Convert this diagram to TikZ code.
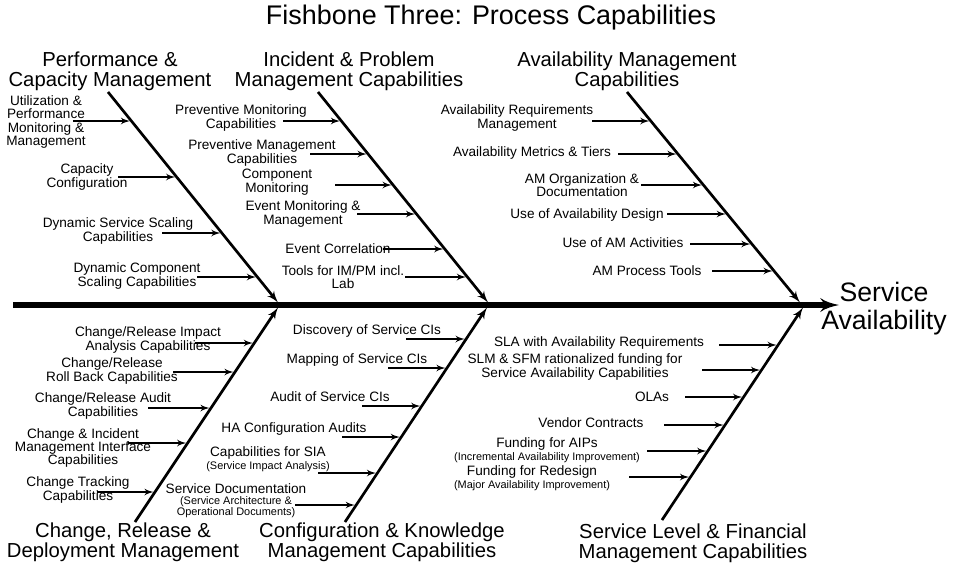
\documentclass[tikz,border=0pt]{standalone}
\usepackage{fontspec}
\setmainfont{Liberation Sans}
\usetikzlibrary{arrows,positioning}
\tikzstyle{spine} = [draw, line width=3.8pt, -latex']
\tikzstyle{bone} = [draw, line width=2pt, -latex']
\tikzstyle{line} = [draw, line width=1.4pt, -latex', shorten >=1pt]
\tikzstyle{cause} = [align=center, inner sep=0pt, font=\fontsize{10.2}{10}\selectfont]
\tikzstyle{note} = [align=center, inner sep=0pt, font=\fontsize{8.2}{8.4}\selectfont]
\tikzstyle{category} = [align=center, inner sep=0pt, font=\fontsize{15.2}{15}\selectfont]

\begin{document}
\begin{tikzpicture}[x=0.75pt, y=-0.75pt]
        \useasboundingbox (0,0) rectangle (953,562);
        \node[font=\fontsize{20.2}{22}\selectfont] (title) at (491,18) {Fishbone Three: Process Capabilities};
        \node[align=center, inner sep=0pt, font=\fontsize{20}{21}\selectfont] (effect) at (884,309) {Service\\Availability};
        \coordinate (tail) at (13,305);
        \coordinate (head) at (839,305);
        \path[spine] (tail) -- (head);
        % categories
        \node[category] (perf) at (110,71) {Performance \&\\Capacity Management};
        \node[category] (inc) at (349,71) {Incident \& Problem\\Management Capabilities};
        \node[category] (avail) at (627,71) {Availability Management\\Capabilities};
        \node[category] (chg) at (123,542) {Change, Release \&\\Deployment Management};
        \node[category] (cfg) at (382,542) {Configuration \& Knowledge\\Management Capabilities};
        \node[category] (slm) at (693,543) {Service Level \& Financial\\Management Capabilities};
        % causes
        \node[cause] (pc1) at (46,122) {Utilization \&\\Performance\\Monitoring \&\\Management};
        \node[cause] (pc2) at (87,177) {Capacity\\Configuration};
        \node[cause] (pc3) at (118,231) {Dynamic Service Scaling\\Capabilities};
        \node[cause] (pc4) at (137,276) {Dynamic Component\\Scaling Capabilities};
        \node[cause] (ic1) at (241,118) {Preventive Monitoring\\Capabilities};
        \node[cause] (ic2) at (262,153) {Preventive Management\\Capabilities};
        \node[cause] (ic3) at (277,182) {Component\\Monitoring};
        \node[cause] (ic4) at (303,214) {Event Monitoring \&\\Management};
        \node[cause] (ic5) at (338,249) {Event Correlation};
        \node[cause] (ic6) at (343,277) {Tools for IM/PM incl.\\Lab};
        \node[cause] (ac1) at (517,118) {Availability Requirements\\Management};
        \node[cause] (ac2) at (532,153) {Availability Metrics \& Tiers};
        \node[cause] (ac3) at (582,185) {AM Organization \&\\Documentation};
        \node[cause] (ac4) at (587,215) {Use of Availability Design};
        \node[cause] (ac5) at (623,243) {Use of AM Activities};
        \node[cause] (ac6) at (647,271) {AM Process Tools};
        \node[cause] (cc1) at (148,340) {Change/Release Impact\\Analysis Capabilities};
        \node[cause] (cc2) at (112,371) {Change/Release\\Roll Back Capabilities};
        \node[cause] (cc3) at (103,406) {Change/Release Audit\\Capabilities};
        \node[cause] (cc4) at (83,448) {Change \& Incident\\Management Interface\\Capabilities};
        \node[cause] (cc5) at (78,490) {Change Tracking\\Capabilities};
        \node[cause] (kc1) at (367,331) {Discovery of Service CIs};
        \node[cause] (kc2) at (357,360) {Mapping of Service CIs};
        \node[cause] (kc3) at (330,397) {Audit of Service CIs};
        \node[cause] (kc4) at (294,429) {HA Configuration Audits};
        \node[cause] (kc5) at (268,453) {Capabilities for SIA};
        \node[note, below=1.5pt of kc5] (kn5) {(Service Impact Analysis)};
        \node[cause] (kc6) at (236,489) {Service Documentation};
        \node[note, below=1.5pt of kc6] (kn6) {(Service Architecture \&\\Operational Documents)};
        \node[cause] (sc1) at (599,343) {SLA with Availability Requirements};
        \node[cause] (sc2) at (575,367) {SLM \& SFM rationalized funding for\\Service Availability Capabilities};
        \node[cause] (sc3) at (652,397) {OLAs};
        \node[cause] (sc4) at (591,423) {Vendor Contracts};
        \node[cause] (sc5) at (547,444) {Funding for AIPs};
        \node[note, below=1.5pt of sc5] (sn5) {(Incremental Availability Improvement)};
        \node[cause] (sc6) at (532,472) {Funding for Redesign};
        \node[note, below=1.5pt of sc6] (sn6) {(Major Availability Improvement)};
        % bones and the arrows onto them
        \foreach \b/\xt/\yt/\xh/\yh/\list in {
                p/108/92/278/302.5/{73/121,118/177,162/233,197/277},
                i/318/92/488/302.5/{283/121,310/154,335/185,357/214,383/249,405/277},
                a/627/92/800/302.5/{592/121,618/154,641/185,667/214,690/244,712/271},
                c/135/522/278/307.5/{195/343,173/372,148/408,128/443,97/492},
                k/345/522/487/307.5/{406/339,388/368,362/406,342/437,318/473,295/505},
                s/662/520/803/307.5/{719/345,702/370,685/397,664/425,647/451,629/477}} {
            \coordinate (\b t) at (\xt,\yt);
            \coordinate (\b h) at (\xh,\yh);
            \path[bone] (\b t) -- (\b h);
            \foreach \x/\y [count=\i] in \list {
                \pgfmathsetmacro\ex{\xt+(\y-\yt)/(\yh-\yt)*(\xh-\xt)}
                \coordinate (\b a\i) at (\x,\y);
                \coordinate (\b e\i) at (\ex,\y);
                \path[line] (\b a\i) -- (\b e\i);
            }
        }
    \end{tikzpicture}
\end{document}
